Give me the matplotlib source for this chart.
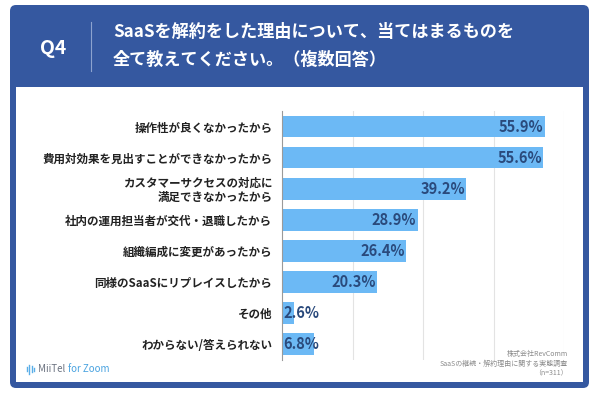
import matplotlib.pyplot as plt
from matplotlib.patches import FancyBboxPatch, Rectangle

plt.rcParams['font.family'] = ['Noto Sans CJK JP', 'DejaVu Sans']

categories = [
    '操作性が良くなかったから',
    '費用対効果を見出すことができなかったから',
    'カスタマーサクセスの対応に\n満足できなかったから',
    '社内の運用担当者が交代・退職したから',
    '組織編成に変更があったから',
    '同様のSaaSにリプレイスしたから',
    'その他',
    'わからない/答えられない',
]
values = [55.9, 55.6, 39.2, 28.9, 26.4, 20.3, 2.6, 6.8]
grid_ticks = [15, 30, 45, 60]

header_blue = '#3558a0'
bar_color = '#6cb9f5'
label_blue = '#2a4a7c'

W, H = 600, 394
fig = plt.figure(figsize=(6, 3.94), dpi=100)

# background / frame drawn in pixel coords
bg = fig.add_axes([0, 0, 1, 1])
bg.set_xlim(0, W)
bg.set_ylim(H, 0)
bg.axis('off')
bg.add_patch(FancyBboxPatch((10, 5), 579, 383, boxstyle='round,pad=0,rounding_size=6',
                            facecolor=header_blue, edgecolor='none'))
bg.add_patch(Rectangle((16, 87), 567, 295, facecolor='white', edgecolor='none'))
bg.plot([91, 91], [22, 71], color='#8da3cf', lw=0.8)
bg.text(53, 48, 'Q4', color='white', fontsize=14, fontweight='bold', ha='center', va='center')
bg.text(113, 46, 'SaaSを解約をした理由について、当てはまるものを\n全て教えてください。（複数回答）',
        color='white', fontsize=12.3, fontweight='bold', ha='left', va='center', linespacing=1.7)

# logo
for i, h in enumerate([4, 9, 6, 3]):
    bg.plot([27 + i * 2.3, 27 + i * 2.3], [369 - h / 2, 369 + h / 2], color='#5aaee8', lw=1)
bg.text(38, 369, 'MiiTel', color='#6b7280', fontsize=7, ha='left', va='center')
bg.text(68, 369, 'for Zoom', color='#4aa3e0', fontsize=7, ha='left', va='center')

# chart
ax = fig.add_axes([282 / W, (H - 359.5) / H, 282 / W, 248.5 / H])
ax.patch.set_alpha(0)
ypos = list(range(len(categories)))
ax.barh(ypos, values, height=0.7, color=bar_color, zorder=2)
ax.set_xlim(0, 60)
ax.set_ylim(len(categories) - 0.5, -0.5)
ax.set_xticks(grid_ticks)
ax.set_xticklabels([])
ax.tick_params(axis='x', length=0)
ax.grid(axis='x', color='#e3e3e3', lw=0.8, zorder=0)
ax.set_yticks(ypos)
ax.set_yticklabels(categories, fontsize=8.3, fontweight='bold', color='#222222', linespacing=1.05)
ax.tick_params(axis='y', length=0, pad=7)
for s in ['top', 'right', 'bottom']:
    ax.spines[s].set_visible(False)
ax.spines['left'].set_color('#9a9a9a')
ax.spines['left'].set_linewidth(0.8)

for y, v in zip(ypos, values):
    if v >= 10:
        ax.annotate(f'{v}%', (v, y), xytext=(-1, 0), textcoords='offset points',
                    ha='right', va='center', fontsize=10.5, fontweight='bold', color=label_blue, zorder=3)
    else:
        ax.annotate(f'{v}%', (0, y), xytext=(1, 0), textcoords='offset points',
                    ha='left', va='center', fontsize=10.5, fontweight='bold', color=label_blue, zorder=3)

# source note, on top of the chart
src_color = '#8a8a8a'
fig.text(568 / W, 1 - 354 / H, '株式会社RevComm', color=src_color, fontsize=5, ha='right', va='center')
fig.text(568 / W, 1 - 364 / H, 'SaaSの継続・解約理由に関する実態調査', color=src_color, fontsize=5, ha='right', va='center')
fig.text(568 / W, 1 - 373 / H, '（n=311）', color=src_color, fontsize=5, ha='right', va='center')

fig.savefig('out.png', dpi=100, facecolor='white')
